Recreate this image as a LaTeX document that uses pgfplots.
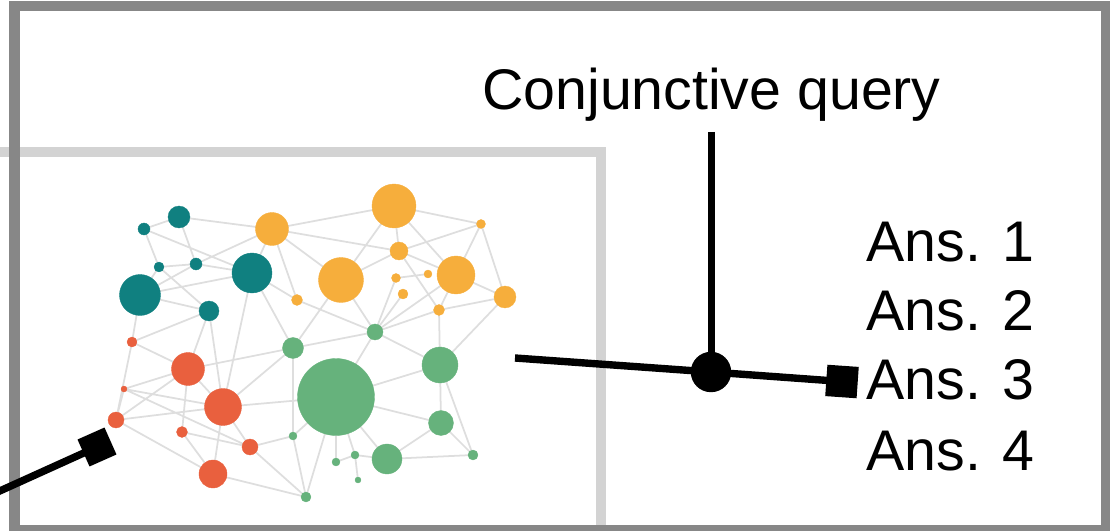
\documentclass[border=0pt]{standalone}
\usepackage{pgfplots}
\pgfplotsset{compat=1.18}
\usepackage{fontspec}
\setmainfont{Liberation Sans}
\definecolor{tealc}{RGB}{16,128,128}
\definecolor{orangec}{RGB}{246,174,60}
\definecolor{redc}{RGB}{233,96,62}
\definecolor{greenc}{RGB}{102,178,124}
\definecolor{edgec}{RGB}{222,222,222}
\definecolor{outerc}{RGB}{135,135,135}
\definecolor{innerc}{RGB}{211,211,211}
\pgfplotsset{netnodes/.style={scatter, only marks, mark=*,
  visualization depends on={0.28453*\thisrow{r} \as \rr},
  scatter/use mapped color={draw=#1, fill=#1, line width=0.1pt},
  scatter/@pre marker code/.append style={/tikz/mark size=\rr pt}}}
\begin{document}
\begin{tikzpicture}
\begin{axis}[
  scale only axis, width=11.1cm, height=5.31cm,
  xmin=0, xmax=1110, ymin=0, ymax=531, y dir=reverse,
  hide axis, clip=true, unbounded coords=jump]
% frames
\addplot[innerc, line width=2.85pt, mark=none] coordinates {(-30,152) (601,152) (601,570)};
\addplot[outerc, line width=2.95pt, mark=none] coordinates {(500,6) (1106,6) (1106,530) (14.5,530) (14.5,6) (500,6)};
% edges
\addplot[edgec, line width=0.5pt, mark=none] table {
x y
179 217
144 229
nan nan
179 217
272 229
nan nan
179 217
196 264
nan nan
144 229
159 267
nan nan
144 229
252 273
nan nan
159 267
196 264
nan nan
159 267
140 295
nan nan
159 267
209 311
nan nan
196 264
252 273
nan nan
140 295
252 273
nan nan
140 295
196 264
nan nan
140 295
209 311
nan nan
140 295
132 342
nan nan
209 311
188 369
nan nan
209 311
223 407
nan nan
209 311
132 342
nan nan
252 273
272 229
nan nan
252 273
293 348
nan nan
252 273
223 407
nan nan
252 273
297 300
nan nan
272 229
196 264
nan nan
272 229
297 300
nan nan
272 229
394 206
nan nan
272 229
399 251
nan nan
272 229
341 280
nan nan
394 206
481 224
nan nan
394 206
399 251
nan nan
394 206
456 275
nan nan
394 206
341 280
nan nan
481 224
399 251
nan nan
481 224
456 275
nan nan
481 224
505 297
nan nan
399 251
341 280
nan nan
399 251
456 275
nan nan
399 251
439 310
nan nan
341 280
375 332
nan nan
341 280
293 348
nan nan
396 278
428 274
nan nan
396 278
375 332
nan nan
403 294
375 332
nan nan
456 275
375 332
nan nan
456 275
505 297
nan nan
456 275
439 310
nan nan
439 310
375 332
nan nan
439 310
440 365
nan nan
505 297
440 365
nan nan
505 297
439 310
nan nan
297 300
375 332
nan nan
375 332
293 348
nan nan
375 332
336 397
nan nan
375 332
440 365
nan nan
293 348
293 436
nan nan
293 348
223 407
nan nan
293 348
188 369
nan nan
336 397
440 365
nan nan
336 397
441 423
nan nan
336 397
387 459
nan nan
336 397
336 462
nan nan
336 397
355 455
nan nan
336 397
306 497
nan nan
336 397
293 436
nan nan
440 365
441 423
nan nan
440 365
473 455
nan nan
441 423
387 459
nan nan
441 423
473 455
nan nan
387 459
473 455
nan nan
355 455
358 480
nan nan
355 455
387 459
nan nan
336 462
355 455
nan nan
293 436
306 497
nan nan
223 407
336 397
nan nan
132 342
188 369
nan nan
132 342
116 420
nan nan
188 369
124 389
nan nan
188 369
116 420
nan nan
188 369
182 432
nan nan
188 369
223 407
nan nan
124 389
223 407
nan nan
124 389
116 420
nan nan
124 389
250 447
nan nan
116 420
223 407
nan nan
116 420
213 474
nan nan
182 432
250 447
nan nan
182 432
213 474
nan nan
223 407
213 474
nan nan
223 407
250 447
nan nan
250 447
293 436
nan nan
250 447
306 497
nan nan
213 474
306 497
};
% nodes
\addplot[netnodes=tealc] table {
x y r
179 217 11
144 229 6
196 264 6
159 267 5
252 273 20
140 295 20.5
209 311 10
};
\addplot[netnodes=orangec] table {
x y r
272 229 16.5
297 300 5.5
394 206 22
481 224 4.5
399 251 9
341 280 22.5
396 278 4.5
428 274 4
403 294 5
456 275 19
505 297 11
439 310 5.5
};
\addplot[netnodes=greenc] table {
x y r
375 332 8
293 348 10.5
336 397 38.5
440 365 18
441 423 12.5
293 436 4
336 462 4
355 455 4
358 480 3
387 459 15
473 455 5
306 497 5
};
\addplot[netnodes=redc] table {
x y r
132 342 5
188 369 16.5
124 389 3
223 407 18.5
116 420 8
182 432 5.5
250 447 8
213 474 14
};
% query structure
\addplot[black, line width=2.1pt, mark=none] coordinates {(-10,495.4) (97,447)};
\addplot[black, only marks, mark=square*, mark size=4pt, mark options={rotate=24}] coordinates {(97,447)};
\addplot[black, line width=2.1pt, mark=none] coordinates {(515,358) (711,372) (842,381.5)};
\addplot[black, line width=2.1pt, mark=none] coordinates {(711.5,132) (711.5,372)};
\addplot[black, only marks, mark=*, mark size=5.55pt] coordinates {(711,372)};
\addplot[black, only marks, mark=square*, mark size=4.27pt, mark options={rotate=-4}] coordinates {(842,381.5)};
\node[anchor=base, inner sep=0pt, font=\fontsize{16.3}{19}\selectfont] at (axis cs:711.5,110) {Conjunctive query};
\node[anchor=base west, inner sep=0pt, font=\fontsize{16.3}{19}\selectfont] at (axis cs:866,262) {Ans. 1};
\node[anchor=base west, inner sep=0pt, font=\fontsize{16.3}{19}\selectfont] at (axis cs:866,331) {Ans. 2};
\node[anchor=base west, inner sep=0pt, font=\fontsize{16.3}{19}\selectfont] at (axis cs:866,400) {Ans. 3};
\node[anchor=base west, inner sep=0pt, font=\fontsize{16.3}{19}\selectfont] at (axis cs:866,470) {Ans. 4};
\end{axis}
\pgfresetboundingbox
\useasboundingbox (current axis.south west) rectangle (current axis.north east);
\end{tikzpicture}
\end{document}
